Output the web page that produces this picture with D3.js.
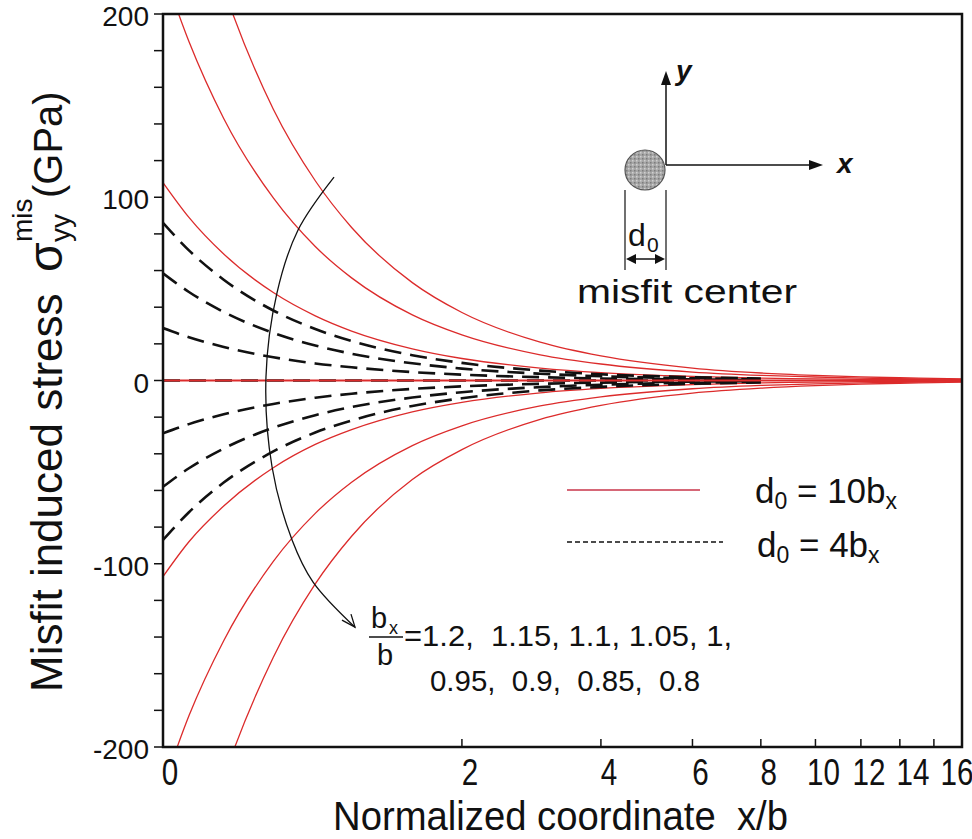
<!DOCTYPE html>
<html><head><meta charset="utf-8">
<script src="https://cdn.jsdelivr.net/npm/d3@7"></script>
<style>body{margin:0;background:#fff}svg{display:block}</style>
</head><body><svg id="c" width="972" height="839"></svg>
<script>
// ---------- data ----------
const xSamples = [0,0.1,0.25,0.5,0.75,1,1.5,2,3,4,6,8,10,12,14,16,17.85];
// d0 = 10 bx (red solid)
const red_p3 = [334,276,214,148,109,83.5,53.4,37.1,20.9,13.4,6.8,4.1,2.8,2.0,1.5,1.2,0.9];
const red_p2 = [224,185,143,99.6,73.1,56,35.8,24.9,14.0,9.0,4.6,2.8,1.9,1.3,1.0,0.8,0.6];
const red_p1 = [108,89,69,48,35.3,27,17.3,12,6.8,4.3,2.2,1.3,0.9,0.6,0.5,0.4,0.3];
const red_0  = [0,0,0,0,0,0,0,0,0,0,0,0,0,0,0,0,0];
const red_m1 = [-107,-88,-68.5,-47.6,-34.9,-26.8,-17.1,-11.9,-6.7,-4.3,-2.2,-1.3,-0.9,-0.6,-0.5,-0.4,-0.3];
const red_m2 = [-222,-183,-142,-98.7,-72.5,-55.5,-35.5,-24.7,-13.9,-8.9,-4.5,-2.7,-1.8,-1.3,-1.0,-0.8,-0.6];
const red_m3 = [-339,-280,-217,-151,-111,-85,-54,-37.7,-21.2,-13.6,-6.9,-4.2,-2.8,-2.0,-1.5,-1.2,-0.9];
// d0 = 4 bx (black dashed)
const dash_p3 = [86,71,55,38.2,28.1,21.5,13.8,9.6,5.4,3.4,1.8,1.1];
const dash_p2 = [58.5,48.3,37.4,26,19.1,14.6,9.4,6.5,3.7,2.3,1.2,0.7];
const dash_p1 = [28.6,23.6,18.3,12.7,9.3,7.2,4.6,3.2,1.8,1.1,0.6,0.35];
const dash_0  = [0,0,0,0,0,0,0,0,0,0,0,0];
const dash_m1 = [-28.8,-23.8,-18.4,-12.8,-9.4,-7.2,-4.6,-3.2,-1.8,-1.15,-0.6,-0.36];
const dash_m2 = [-58,-47.9,-37.1,-25.8,-18.9,-14.5,-9.3,-6.4,-3.6,-2.3,-1.2,-0.7];
const dash_m3 = [-87,-71.9,-55.7,-38.7,-28.4,-21.8,-13.9,-9.7,-5.4,-3.5,-1.8,-1.1];

const xTicks = [0,2,4,6,8,10,12,14,16];
const yTicksMajor = [200,100,0,-100,-200];
const yTicksMinor = d3.range(-200,201,20);
const xMax = 17.85;
const ratioText1 = "=1.2,  1.15, 1.1, 1.05, 1,";
const ratioText2 = "0.95,  0.9,  0.85,  0.8";

// ---------- layout ----------
const L=163, R=962, T=14, B=747;
const FONT = "'Liberation Sans', Arial, sans-serif";
const svg = d3.select("#c");
svg.append("rect").attr("width",972).attr("height",839).attr("fill","#fff");

// x axis is logarithmic in (1 + x/b)
const xs = d3.scaleLog().domain([1, 1 + xMax]).range([L, R]);
const X = v => xs(1 + v);
const Y = d3.scaleLinear().domain([-200,200]).range([B,T]);

svg.append("defs").append("clipPath").attr("id","plot")
  .append("rect").attr("x",L).attr("y",T).attr("width",R-L).attr("height",B-T);

const line = d3.line().x(d=>X(d[0])).y(d=>Y(d[1])).curve(d3.curveMonotoneX);
const plot = svg.append("g").attr("clip-path","url(#plot)");

const reds = [red_p3,red_p2,red_p1,red_m1,red_m2,red_m3];
reds.forEach(s=>{
  plot.append("path").datum(s.map((v,i)=>[xSamples[i],v]))
    .attr("d",line).attr("fill","none").attr("stroke","#dc2b2b").attr("stroke-width",1.3);
});
const dashes = [dash_p3,dash_p2,dash_p1,dash_0,dash_m1,dash_m2,dash_m3];
dashes.forEach(s=>{
  plot.append("path").datum(s.map((v,i)=>[xSamples[i],v]))
    .attr("d",line).attr("fill","none").attr("stroke","#111").attr("stroke-width",2.6)
    .attr("stroke-dasharray","17,9");
});
plot.append("path").datum(red_0.map((v,i)=>[xSamples[i],v]))
  .attr("d",line).attr("fill","none").attr("stroke","#dc2b2b").attr("stroke-width",2);

// frame
svg.append("rect").attr("x",L).attr("y",T).attr("width",R-L).attr("height",B-T)
  .attr("fill","none").attr("stroke","#111").attr("stroke-width",2.5);

// x axis ticks (inside) and labels (labels kept from overlapping)
const xAxis = svg.append("g");
let prevLabel = -1e9;
xTicks.forEach(t=>{
  if (t>0) xAxis.append("line").attr("x1",X(t)).attr("x2",X(t)).attr("y1",B).attr("y2",B-8)
    .attr("stroke","#111").attr("stroke-width",1.5);
  const lx = Math.max(X(t) + (t===0?7:8), prevLabel + 44);
  prevLabel = lx;
  xAxis.append("text").attr("transform",`translate(${lx},785) scale(0.8,1)`)
    .attr("text-anchor","middle").attr("font-family",FONT).attr("font-size",37).attr("fill","#111").text(t);
});
// y axis ticks (outside) and labels
yTicksMinor.forEach(t=>{
  svg.append("line").attr("x1",L-9).attr("x2",L).attr("y1",Y(t)).attr("y2",Y(t))
    .attr("stroke","#111").attr("stroke-width",1.5);
});
yTicksMajor.forEach(t=>{
  svg.append("text").attr("x",149).attr("y",Y(t)+12).attr("text-anchor","end")
    .attr("font-family",FONT).attr("font-size",28).attr("fill","#111").text(t);
});

// axis titles
svg.append("text").attr("x",333).attr("y",830).attr("font-family",FONT).attr("font-size",40)
  .attr("textLength",455).attr("lengthAdjust","spacingAndGlyphs").attr("fill","#111")
  .attr("xml:space","preserve").text("Normalized coordinate  x/b");

const yt = svg.append("g").attr("transform","translate(62,692) rotate(-90)")
  .attr("font-family",FONT).attr("fill","#111");
yt.append("text").attr("x",0).attr("y",0).attr("font-size",44).text("Misfit induced stress");
yt.append("text").attr("x",420).attr("y",0).attr("font-size",48).text("σ");
yt.append("text").attr("x",450).attr("y",-30).attr("font-size",28).text("mis");
yt.append("text").attr("x",450).attr("y",8).attr("font-size",28).text("yy");
yt.append("text").attr("x",494).attr("y",0).attr("font-size",40).text("(GPa)");

// curved arrow annotation (data coordinates)
const arrowPts = [[0.875,111],[0.642,82],[0.52,47.7],[0.46,1.9],[0.493,-47.2],[0.607,-87],[0.736,-110],[1.025,-134.6]];
const aLine = d3.line().x(d=>X(d[0])).y(d=>Y(d[1])).curve(d3.curveCatmullRom);
svg.append("path").attr("d",aLine(arrowPts)).attr("fill","none").attr("stroke","#111").attr("stroke-width",1.3);
{
  const tip=[X(1.025),Y(-134.6)];
  svg.append("path").attr("d",`M${tip[0]-13},${tip[1]-7}L${tip[0]},${tip[1]}L${tip[0]-4},${tip[1]-13}`)
    .attr("fill","none").attr("stroke","#111").attr("stroke-width",1.3);
}

// ratio label
const rl = svg.append("g").attr("font-family",FONT).attr("fill","#111");
rl.append("text").attr("x",371).attr("y",628).attr("font-size",29).text("b");
rl.append("text").attr("x",389).attr("y",634).attr("font-size",18).text("x");
rl.append("line").attr("x1",369).attr("x2",403).attr("y1",637).attr("y2",637).attr("stroke","#111").attr("stroke-width",1.3);
rl.append("text").attr("x",377).attr("y",665).attr("font-size",29).text("b");
rl.append("text").attr("x",404).attr("y",646).attr("font-size",29).attr("textLength",328).attr("lengthAdjust","spacingAndGlyphs").attr("xml:space","preserve").text(ratioText1);
rl.append("text").attr("x",430).attr("y",691).attr("font-size",29).attr("textLength",270).attr("lengthAdjust","spacingAndGlyphs").attr("xml:space","preserve").text(ratioText2);

// inset schematic
const ins = svg.append("g").attr("fill","#111").attr("font-family",FONT);
const ox=666, oy=165;
ins.append("line").attr("x1",ox).attr("y1",oy).attr("x2",ox).attr("y2",82).attr("stroke","#111").attr("stroke-width",1.5);
ins.append("path").attr("d",`M${ox},71L${ox-5},85L${ox+5},85Z`);
ins.append("line").attr("x1",ox).attr("y1",oy).attr("x2",812).attr("y2",oy).attr("stroke","#111").attr("stroke-width",1.5);
ins.append("path").attr("d",`M823,${oy}L809,${oy-5}L809,${oy+5}Z`);
ins.append("text").attr("x",676).attr("y",80).attr("font-size",28).attr("font-style","italic").attr("font-weight","bold").text("y");
ins.append("text").attr("x",837).attr("y",173).attr("font-size",28).attr("font-style","italic").attr("font-weight","bold").text("x");
const pat = svg.select("defs").append("pattern").attr("id","speck").attr("width",4).attr("height",4).attr("patternUnits","userSpaceOnUse");
pat.append("rect").attr("width",4).attr("height",4).attr("fill","#a6a6a6");
pat.append("rect").attr("x",0).attr("y",0).attr("width",1.5).attr("height",1.5).attr("fill","#d0d0d0");
pat.append("rect").attr("x",2).attr("y",2).attr("width",1.5).attr("height",1.5).attr("fill","#7c7c7c");
ins.append("circle").attr("cx",645).attr("cy",170).attr("r",20).attr("fill","url(#speck)").attr("stroke","#555").attr("stroke-width",1.2);
ins.append("line").attr("x1",625).attr("x2",625).attr("y1",190).attr("y2",270).attr("stroke","#111").attr("stroke-width",1.2);
ins.append("line").attr("x1",666).attr("x2",666).attr("y1",190).attr("y2",270).attr("stroke","#111").attr("stroke-width",1.2);
ins.append("line").attr("x1",630).attr("x2",661).attr("y1",259).attr("y2",259).attr("stroke","#111").attr("stroke-width",1.5);
ins.append("path").attr("d","M626,259L636,254L636,264Z");
ins.append("path").attr("d","M665,259L655,254L655,264Z");
ins.append("text").attr("x",628).attr("y",246).attr("font-size",32).text("d");
ins.append("text").attr("x",647).attr("y",252).attr("font-size",21).text("0");
ins.append("text").attr("x",577).attr("y",303).attr("font-size",33).attr("textLength",220).attr("lengthAdjust","spacingAndGlyphs").text("misfit center");

// legend
const lg = svg.append("g").attr("font-family",FONT).attr("fill","#111");
lg.append("line").attr("x1",567).attr("x2",700).attr("y1",490).attr("y2",490).attr("stroke","#c8354a").attr("stroke-width",1.6);
lg.append("line").attr("x1",567).attr("x2",723).attr("y1",542).attr("y2",542).attr("stroke","#111").attr("stroke-width",1.4).attr("stroke-dasharray","5,3");
const lt1 = lg.append("text").attr("x",755).attr("y",503).attr("font-size",35).attr("xml:space","preserve");
lt1.append("tspan").text("d");
lt1.append("tspan").attr("font-size",23).attr("dy",6).text("0");
lt1.append("tspan").attr("dy",-6).text(" = 10b");
lt1.append("tspan").attr("font-size",23).attr("dy",6).text("x");
const lt2 = lg.append("text").attr("x",757).attr("y",557).attr("font-size",35).attr("xml:space","preserve");
lt2.append("tspan").text("d");
lt2.append("tspan").attr("font-size",23).attr("dy",6).text("0");
lt2.append("tspan").attr("dy",-6).text(" = 4b");
lt2.append("tspan").attr("font-size",23).attr("dy",6).text("x");
</script></body></html>
